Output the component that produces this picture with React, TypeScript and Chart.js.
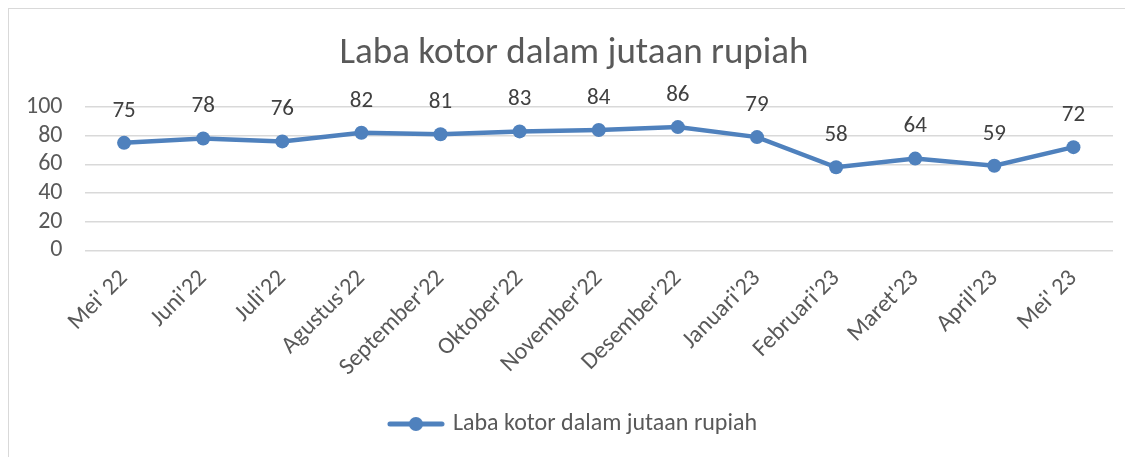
import React, { useEffect, useRef } from "react";
import { Chart, registerables } from "chart.js";

Chart.register(...registerables);

const categories = [
  "Mei' 22", "Juni'22", "Juli'22", "Agustus'22", "September'22", "Oktober'22",
  "November'22", "Desember'22", "Januari'23", "Februari'23", "Maret'23", "April'23", "Mei' 23",
];
const values = [75, 78, 76, 82, 81, 83, 84, 86, 79, 58, 64, 59, 72];
const seriesName = "Laba kotor dalam jutaan rupiah";
const titleText = "Laba kotor dalam jutaan rupiah";

const FONT = "Carlito, Lato, 'Open Sans', sans-serif";
const LINE_COLOR = "#4f81bd";
const TEXT_COLOR = "#595959";

const dataLabelPlugin = {
  id: "dataLabels",
  afterDatasetsDraw(chart: any) {
    const ctx = chart.ctx;
    const meta = chart.getDatasetMeta(0);
    ctx.save();
    ctx.font = `23px ${FONT}`;
    ctx.fillStyle = "#404040";
    ctx.textAlign = "center";
    ctx.textBaseline = "middle";
    meta.data.forEach((pt: any, i: number) => {
      ctx.fillText(String(chart.data.datasets[0].data[i]), pt.x, pt.y - 32);
    });
    ctx.restore();
  },
};

export default function App() {
  const ref = useRef<HTMLCanvasElement | null>(null);
  useEffect(() => {
    if (!ref.current) return;
    const marker = document.createElement("canvas");
    marker.width = 58;
    marker.height = 16;
    const mctx = marker.getContext("2d")!;
    mctx.strokeStyle = LINE_COLOR;
    mctx.lineWidth = 5;
    mctx.lineCap = "round";
    mctx.beginPath();
    mctx.moveTo(3, 8);
    mctx.lineTo(55, 8);
    mctx.stroke();
    mctx.fillStyle = LINE_COLOR;
    mctx.beginPath();
    mctx.arc(29, 8, 7, 0, Math.PI * 2);
    mctx.fill();

    const chart = new Chart(ref.current, {
      type: "line",
      data: {
        labels: categories,
        datasets: [
          {
            label: seriesName,
            data: values,
            borderColor: LINE_COLOR,
            backgroundColor: LINE_COLOR,
            borderWidth: 4.5,
            pointRadius: 7,
            pointBackgroundColor: LINE_COLOR,
            pointBorderWidth: 0,
            tension: 0,
          },
        ],
      },
      options: {
        animation: false,
        responsive: false,
        layout: { padding: { left: 26, right: 20, top: 0, bottom: 11 } },
        plugins: {
          title: {
            display: true,
            text: titleText,
            font: { family: FONT, size: 37, weight: "normal" },
            color: TEXT_COLOR,
            padding: { top: 23, bottom: 30.6 },
          },
          legend: {
            position: "bottom",
            labels: {
              usePointStyle: true,
              pointStyle: marker as any,
              pointStyleWidth: 50,
              font: { family: FONT, size: 24 },
              color: TEXT_COLOR,
              padding: 10,
            },
          },
          tooltip: { enabled: false },
        },
        scales: {
          x: {
            offset: true,
            grid: { display: false, drawTicks: false },
            border: { display: false },
            ticks: {
              maxRotation: 45,
              minRotation: 45,
              autoSkip: false,
              font: { family: FONT, size: 24 },
              color: TEXT_COLOR,
              padding: 14,
            },
            afterFit: (s: any) => {
              s.height = 151.6;
            },
          },
          y: {
            min: 0,
            max: 100,
            ticks: {
              stepSize: 20,
              autoSkip: false,
              font: { family: FONT, size: 24 },
              color: TEXT_COLOR,
              padding: 22,
            },
            grid: { color: "#d9d9d9", lineWidth: 1.5, drawTicks: false },
            border: { display: false },
            afterFit: (s: any) => {
              s.width = 49.5;
              s._computeLabelArea = () => undefined;
            },
          },
        },
      },
      plugins: [dataLabelPlugin],
    });
    return () => chart.destroy();
  }, []);

  return (
    <div
      style={{
        width: 1124,
        height: 448,
        borderLeft: "1px solid #d9d9d9",
        borderTop: "1px solid #d9d9d9",
        background: "#fff",
      }}
    >
      <canvas ref={ref} width={1124} height={448} style={{ display: "block" }} />
    </div>
  );
}
